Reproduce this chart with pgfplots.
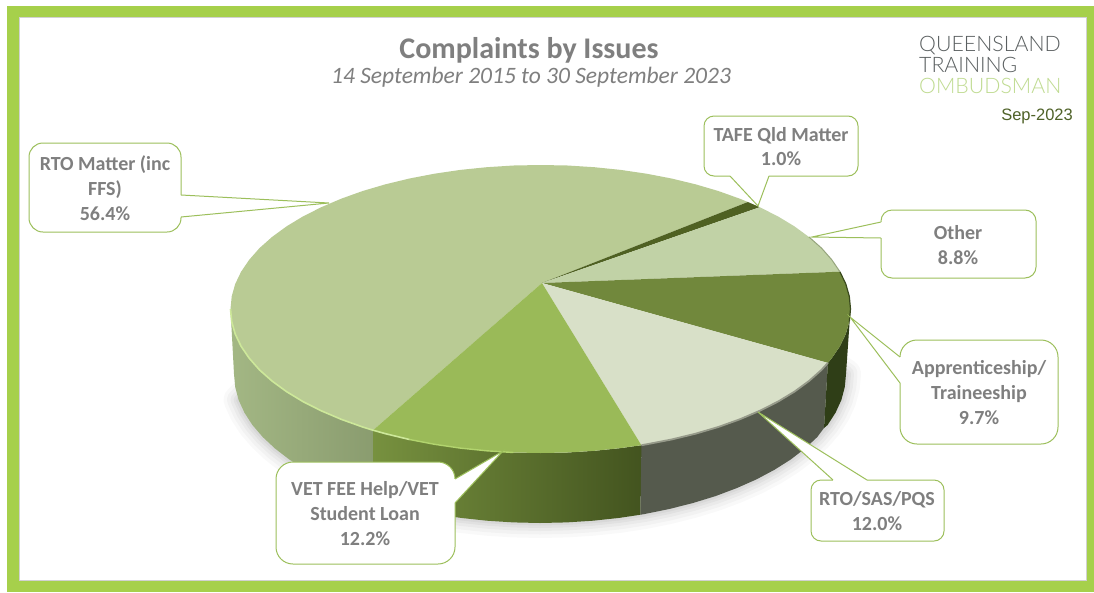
\documentclass[border=0pt]{standalone}
\usepackage{fontspec}
\usepackage{pgfplots}
\pgfplotsset{compat=1.18}
\setmainfont{Carlito}
\newfontfamily\logofont{Lato Light}
\newfontfamily\arialfont{Liberation Sans}
\definecolor{frameg}{HTML}{A6D04B}
\definecolor{calloutg}{HTML}{9CBF5B}
\definecolor{txtg}{HTML}{7F7F7F}
\definecolor{sRTO}{HTML}{B9CB94}
\definecolor{sTAFE}{HTML}{4F6122}
\definecolor{sOther}{HTML}{C1D2A6}
\definecolor{sApp}{HTML}{71883C}
\definecolor{sSAS}{HTML}{D8E0C8}
\definecolor{sVET}{HTML}{9ABA58}
\pgfplotstableread{
x y
300 340
238.6 399.9
244.4 412.6
252.4 425
262.7 437
275 448.5
289.3 459.5
305.6 469.8
323.6 479.4
343.3 488.1
364.5 496.1
387 503
410.7 509
435.3 514
460.8 517.9
486.9 520.7
513.3 522.4
540 523
566.7 522.4
593.1 520.7
619.2 517.9
644.7 514
669.3 509
693 503
715.5 496.1
736.7 488.1
756.4 479.4
774.4 469.8
790.7 459.5
805 448.5
817.3 437
827.6 425
835.6 412.6
841.4 399.9
844.8 387
846 374
780 330
}\shadowtable
\newcommand{\callout}[5]{%
  \draw[calloutg,fill=white,line width=1pt,rounded corners=#2pt] #1;
  \fill[white] #3 -- #4 -- #5 -- cycle;
  \draw[white,line width=1.8pt] #3 -- #5;
  \draw[calloutg,line width=1pt,line join=miter] #3 -- #4 -- #5;
}
\newcommand{\lab}[3]{\node[anchor=base,inner sep=0pt,text=txtg,font=\fontsize{20}{20}\selectfont\bfseries] at (#1,#2) {#3};}
\begin{document}
\begin{tikzpicture}
\begin{axis}[
  at={(0pt,0pt)},anchor=south west,
  scale only axis,width=1094pt,height=592pt,
  xmin=0,xmax=1094,ymin=0,ymax=592,y dir=reverse,
  hide axis,clip=true,no marks]
% frame
\addplot[fill=white,draw=none] coordinates {(0,0)(1094,0)(1094,592)(0,592)} --cycle;
\addplot[fill=frameg,draw=none] coordinates {(7,6)(1094,6)(1094,592)(7,592)} --cycle;
\addplot[fill=white,draw=black!18,line width=0.8pt] coordinates {(19,17)(1086,17)(1086,580)(19,580)} --cycle;
% soft shadow
\addplot[draw=black,draw opacity=.022,line width=30pt,line join=round] table {\shadowtable} --cycle;
\addplot[draw=black,draw opacity=.026,line width=23pt,line join=round] table {\shadowtable} --cycle;
\addplot[draw=black,draw opacity=.03,line width=16pt,line join=round] table {\shadowtable} --cycle;
\addplot[draw=black,draw opacity=.035,line width=10pt,line join=round] table {\shadowtable} --cycle;
\addplot[draw=black,draw opacity=.04,line width=5pt,line join=round] table {\shadowtable} --cycle;
% side walls
\addplot[draw=none,left color={rgb,255:red,163;green,183;blue,132},right color={rgb,255:red,138;green,156;blue,111}] coordinates {
(230.5,309)(231.7,321.6)(235.2,334)(241.1,346.3)(249.2,358.2)(259.5,369.9)(272,381)(286.5,391.6)(303,401.6)(321.3,410.8)(341.2,419.3)(362.7,427)(373,430.2)
(373,499)(364.5,496.1)(343.3,488.1)(323.6,479.4)(305.6,469.8)(289.3,459.5)(275,448.5)(262.7,437)(252.4,425)(244.4,412.6)(238.6,399.9)(235.2,387)(234,374)} --cycle;
\addplot[draw=none,left color={rgb,255:red,119;green,145;blue,63},right color={rgb,255:red,67;green,84;blue,31}] coordinates {
(373,430.2)(385.5,433.7)(409.5,439.5)(434.5,444.3)(460.3,448.1)(486.7,450.8)(513.5,452.5)(540.5,453)(567.5,452.5)(594.3,450.8)(620.7,448.1)(641.4,445.2)
(640.5,514.7)(619.2,517.9)(593.1,520.7)(566.7,522.4)(540,523)(513.3,522.4)(486.9,520.7)(460.8,517.9)(435.3,514)(410.7,509)(387,503)(373,499)} --cycle;
\addplot[draw=none,fill={rgb,255:red,85;green,90;blue,77}] coordinates {
(641.4,445.2)(646.5,444.3)(671.5,439.5)(695.5,433.7)(718.3,427)(739.8,419.3)(759.7,410.8)(778,401.6)(794.5,391.6)(809,381)(821.5,369.9)(827.9,362.9)
(824,428)(817.3,437)(805,448.5)(790.7,459.5)(774.4,469.8)(756.4,479.4)(736.7,488.1)(715.5,496.1)(693,503)(669.3,509)(644.7,514)(640.5,514.7)} --cycle;
\addplot[draw=none,fill={rgb,255:red,47;green,62;blue,23}] coordinates {
(827.9,362.9)(831.8,358.2)(839.9,346.3)(845.8,334)(849.3,321.6)(850.5,309)
(846,374)(844.8,387)(841.4,399.9)(835.6,412.6)(827.6,425)(824,428)} --cycle;
% top slices
\addplot[draw=none,fill=sRTO] coordinates {(542,283)(373,430.2)(362.7,427)(341.2,419.3)(321.3,410.8)(303,401.6)(286.5,391.6)(272,381)(259.5,369.9)(249.2,358.2)(241.1,346.3)(235.2,334)(231.7,321.6)(230.5,309)(231.7,296.4)(235.2,284)(241.1,271.7)(249.2,259.8)(259.5,248.1)(272,237)(286.5,226.4)(303,216.4)(321.3,207.2)(341.2,198.7)(362.7,191)(385.5,184.3)(409.5,178.5)(434.5,173.7)(460.3,169.9)(486.7,167.2)(513.5,165.5)(540.5,165)(567.5,165.5)(594.3,167.2)(620.7,169.9)(646.5,173.7)(671.5,178.5)(695.5,184.3)(718.3,191)(739.8,198.7)(747.9,202)} --cycle;
\addplot[draw=none,fill=sTAFE] coordinates {(542,283)(747.9,202)(759.7,207.2)} --cycle;
\addplot[draw=none,fill=sOther] coordinates {(542,283)(759.7,207.2)(778,216.4)(794.5,226.4)(809,237)(821.5,248.1)(831.8,259.8)(839.9,271.7)} --cycle;
\addplot[draw=none,fill=sApp] coordinates {(542,283)(839.9,271.7)(845.8,284)(849.3,296.4)(850.5,309)(849.3,321.6)(845.8,334)(839.9,346.3)(831.8,358.2)(827.9,362.9)} --cycle;
\addplot[draw=none,fill=sSAS] coordinates {(542,283)(827.9,362.9)(821.5,369.9)(809,381)(794.5,391.6)(778,401.6)(759.7,410.8)(739.8,419.3)(718.3,427)(695.5,433.7)(671.5,439.5)(646.5,444.3)(641.4,445.2)} --cycle;
\addplot[draw=none,fill=sVET] coordinates {(542,283)(641.4,445.2)(620.7,448.1)(594.3,450.8)(567.5,452.5)(540.5,453)(513.5,452.5)(486.7,450.8)(460.3,448.1)(434.5,444.3)(409.5,439.5)(385.5,433.7)(373,430.2)} --cycle;
% rim highlights and edges
\addplot[draw={rgb,255:red,205;green,232;blue,154},line width=1.6pt] coordinates {(230.5,309)(231.7,321.6)(235.2,334)(241.1,346.3)(249.2,358.2)(259.5,369.9)(272,381)(286.5,391.6)(303,401.6)(321.3,410.8)(341.2,419.3)(362.7,427)(373,430.2)(385.5,433.7)(409.5,439.5)};
\addplot[draw={rgb,255:red,178;green,212;blue,110},line width=1.4pt] coordinates {(409.5,439.5)(434.5,444.3)(460.3,448.1)(486.7,450.8)(513.5,452.5)};
\addplot[draw={rgb,255:red,150;green,154;blue,138},line width=1.8pt] coordinates {(641.4,445.2)(646.5,444.3)(671.5,439.5)(695.5,433.7)(718.3,427)(739.8,419.3)(759.7,410.8)(778,401.6)(794.5,391.6)(809,381)(821.5,369.9)(827.9,362.9)};
\addplot[draw={rgb,255:red,58;green,74;blue,30},line width=1.2pt] coordinates {(839.9,271.7)(845.8,284)(849.3,296.4)(850.5,309)(849.3,321.6)};
\addplot[draw={rgb,255:red,150;green,165;blue,125},line width=1pt] coordinates {(809,237)(821.5,248.1)(831.8,259.8)(839.9,271.7)};
% callouts
\callout{(29,143) rectangle (181,232)}{14}{(181,195)}{(329,203)}{(181,217)}
\callout{(704,116) rectangle (858,176)}{10}{(730,176)}{(758,206)}{(769,176)}
\callout{(881,210) rectangle (1036,278)}{11}{(881,222)}{(812,237)}{(881,238)}
\callout{(900,340) rectangle (1058,444)}{17}{(900,357)}{(850,317)}{(900,383)}
\callout{(811,480) rectangle (944,541)}{10}{(833,480)}{(758,412)}{(867,480)}
\callout{(276,462) rectangle (455,564)}{17}{(455,479)}{(503,451)}{(455,503)}
\lab{105}{170}{RTO Matter (inc}
\lab{105}{195}{FFS)}
\lab{105}{220}{56.4\%}
\lab{781}{141}{TAFE Qld Matter}
\lab{781}{165}{1.0\%}
\lab{958}{239}{Other}
\lab{958}{264}{8.8\%}
\lab{979}{374}{Apprenticeship/}
\lab{979}{399}{Traineeship}
\lab{979}{424}{9.7\%}
\lab{877}{505}{RTO/SAS/PQS}
\lab{877}{530}{12.0\%}
\lab{365}{495}{VET FEE Help/VET}
\lab{365}{520}{Student Loan}
\lab{365}{545}{12.2\%}
% titles
\node[anchor=base,inner sep=0pt,text=txtg,font=\fontsize{30}{30}\selectfont\bfseries] at (529,58) {Complaints by Issues};
\node[anchor=base,inner sep=0pt,text=txtg,font=\fontsize{23.5}{23.5}\selectfont\itshape] at (531,83) {14 September 2015 to 30 September 2023};
% logo
\node[anchor=base west,inner sep=0pt,text={rgb,255:red,90;green,95;blue,96},font=\logofont\fontsize{21.3}{21.3}\selectfont] at (919,51) {QUEENSLAND};
\node[anchor=base west,inner sep=0pt,text={rgb,255:red,90;green,95;blue,96},font=\logofont\fontsize{21.3}{21.3}\selectfont] at (919,72) {TRAINING};
\node[anchor=base west,inner sep=0pt,text={rgb,255:red,191;green,219;blue,144},font=\logofont\fontsize{21.3}{21.3}\selectfont] at (919,93) {OMBUDSMAN};
\node[anchor=base east,inner sep=0pt,text={rgb,255:red,79;green,98;blue,40},font=\arialfont\fontsize{16.5}{16.5}\selectfont] at (1073,120) {Sep-2023};
\end{axis}
\end{tikzpicture}
\end{document}
